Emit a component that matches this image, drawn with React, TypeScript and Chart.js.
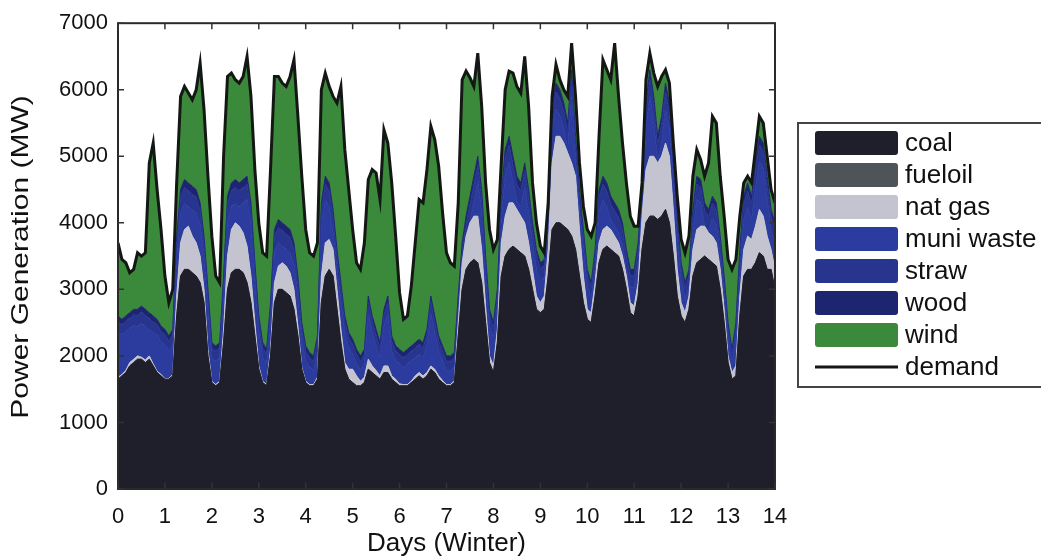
import React, { useEffect, useRef } from 'react';
import { Chart, registerables } from 'chart.js';

Chart.register(...registerables);

// Sampling: every 2 hours over 14 winter days (12 samples per day, 169 points)
const STEPS_PER_DAY = 12;

// Total demand (top of the stack), MW
const demand = [
  3700, 3450, 3400, 3250, 3300, 3550, 3500, 3550, 4900, 5200, 4500, 3900, 3200,
  2800, 3000, 4600, 5900, 6050, 5950, 5850, 6000, 6400, 5700, 4700, 3800,
  3200, 3100, 5000, 6200, 6250, 6150, 6100, 6200, 6500, 5900, 4800, 4000,
  3550, 3500, 4800, 6200, 6200, 6100, 6050, 6200, 6450, 5600, 4700, 3900,
  3550, 3500, 3700, 6000, 6250, 6050, 5900, 5800, 6050, 5100, 4500, 3900,
  3400, 3300, 3700, 4650, 4800, 4750, 4350, 5400, 5200, 4600, 3800, 2950,
  2550, 2600, 3050, 3700, 4350, 4300, 4800, 5450, 5250, 4850, 4150, 3550,
  3400, 3350, 4300, 6150, 6280, 6180, 6050, 6550, 5750, 4600, 3900, 3600,
  3750, 4900, 6000, 6280, 6250, 6050, 5950, 6500, 5750, 4600, 4000, 3650,
  3550, 4300, 5900, 6380, 6150, 6000, 5900, 6700, 5900, 4900, 4250, 3900,
  3800, 4000, 5300, 6450, 6300, 6150, 6700, 5900, 5200, 4600, 4100, 3950,
  3950, 4600, 6150, 6550, 6250, 6050, 6200, 6300, 6100, 5200, 4400, 3750,
  3550, 3800, 4700, 5100, 4950, 4700, 4900, 5600, 5500, 4700, 4100, 3450,
  3300, 3450, 4100, 4600, 4700, 4600, 5100, 5600, 5500, 5000, 4500, 4300,
];

// Coal generation (bottom layer), MW
const coal = [
  1650, 1700, 1750, 1850, 1900, 1950, 1950, 1900, 1950, 1850, 1750, 1700, 1650,
  1650, 1700, 2600, 3200, 3300, 3300, 3250, 3200, 3100, 2800, 2000, 1600,
  1550, 1600, 2200, 3000, 3250, 3300, 3300, 3250, 3100, 2800, 2300, 1800,
  1600, 1550, 2000, 2800, 3000, 3000, 2950, 2900, 2700, 2300, 1800, 1600,
  1550, 1550, 1650, 2800, 3200, 3300, 3200, 2700, 2200, 1800, 1650, 1600,
  1550, 1550, 1600, 1800, 1750, 1700, 1650, 1750, 1750, 1650, 1600, 1550,
  1550, 1550, 1600, 1650, 1700, 1650, 1700, 1800, 1750, 1650, 1600, 1550,
  1550, 1600, 2300, 3000, 3300, 3400, 3450, 3400, 3100, 2500, 1900, 1750,
  2200, 3200, 3500, 3600, 3650, 3600, 3550, 3500, 3300, 3000, 2700, 2650,
  2700, 3200, 3900, 4000, 4000, 3950, 3900, 3800, 3600, 3200, 2800, 2550,
  2500, 2900, 3400, 3600, 3650, 3600, 3550, 3500, 3300, 3000, 2650, 2600,
  2900, 3600, 4000, 4100, 4100, 4050, 4100, 4200, 4000, 3500, 2900, 2600,
  2500, 2700, 3200, 3400, 3450, 3500, 3450, 3400, 3350, 3000, 2500, 1900,
  1650, 1700, 2600, 3200, 3300, 3300, 3400, 3550, 3500, 3300, 3300, 3000,
];

// Fuel oil generation (thin layer above coal), MW
const fuelOil = [
  0, 0, 0, 0, 0, 0, 0, 0, 0, 0, 0, 0, 0,
  0, 0, 0, 0, 0, 0, 0, 0, 0, 0, 0, 0,
  0, 0, 0, 0, 0, 0, 0, 0, 0, 0, 0, 0,
  0, 0, 0, 0, 0, 0, 0, 0, 0, 0, 0, 0,
  0, 0, 0, 0, 0, 0, 0, 0, 0, 0, 0, 0,
  0, 0, 0, 0, 0, 0, 0, 0, 0, 0, 0, 0,
  0, 0, 0, 0, 0, 0, 0, 0, 0, 0, 0, 0,
  0, 0, 0, 0, 0, 0, 0, 0, 0, 0, 0, 0,
  0, 0, 0, 0, 0, 0, 0, 0, 0, 0, 0, 0,
  0, 0, 0, 0, 0, 0, 0, 0, 0, 0, 0, 0,
  0, 0, 0, 0, 0, 0, 0, 0, 0, 0, 0, 0,
  0, 0, 0, 0, 0, 0, 0, 0, 0, 0, 0, 0,
  0, 0, 0, 0, 0, 0, 0, 0, 0, 0, 0, 0,
  0, 0, 0, 0, 0, 0, 0, 0, 0, 0, 0, 0,
];

// Top of the natural gas layer (cumulative), MW
const natGasTop = [
  1680, 1720, 1780, 1900, 1950, 2000, 1980, 1940, 2000, 1880, 1770, 1720, 1660,
  1660, 1720, 2900, 3700, 3900, 3950, 3800, 3700, 3500, 3000, 2100, 1620,
  1570, 1620, 2400, 3500, 3900, 4000, 3950, 3850, 3650, 3200, 2500, 1850,
  1620, 1570, 2100, 3100, 3350, 3400, 3350, 3250, 3000, 2450, 1830, 1620,
  1570, 1570, 1680, 3200, 3700, 3750, 3600, 3000, 2400, 1900, 1800, 1800,
  1700, 1620, 1680, 1950, 1850, 1780, 1700, 1850, 1850, 1700, 1650, 1580,
  1570, 1570, 1620, 1700, 1750, 1700, 1750, 1850, 1800, 1700, 1630, 1570,
  1570, 1630, 2500, 3400, 3800, 4000, 4100, 4100, 3600, 2750, 2000, 1850,
  2400, 3700, 4100, 4300, 4300, 4200, 4100, 4000, 3700, 3300, 2900, 2800,
  2900, 3600, 4900, 5300, 5300, 5200, 5050, 4900, 4700, 3900, 3200, 2700,
  2650, 3100, 3700, 3900, 3950, 3900, 3800, 3700, 3500, 3200, 2800, 2750,
  3100, 4100, 4800, 5000, 5000, 4900, 5000, 5200, 5000, 4200, 3300, 2800,
  2650, 2900, 3600, 3900, 3950, 3950, 3850, 3800, 3700, 3300, 2700, 2000,
  1750, 1850, 2900, 3600, 3800, 3750, 3950, 4200, 4100, 3800, 3600, 3300,
];

// Top of the biomass block (muni waste + straw + wood, cumulative), MW
const biomassTop = [
  2600, 2550, 2600, 2650, 2700, 2700, 2750, 2700, 2650, 2600, 2550, 2450, 2400,
  2300, 2400, 3800, 4500, 4650, 4600, 4550, 4500, 4300, 3800, 3000, 2200,
  2150, 2200, 3200, 4400, 4600, 4650, 4600, 4650, 4700, 4300, 3400, 2600,
  2200, 2100, 2800, 3900, 4050, 4000, 3950, 3900, 3700, 3200, 2500, 2150,
  2050, 2000, 2300, 4300, 4700, 4600, 4200, 3600, 3100, 2600, 2350, 2250,
  2100, 2000, 2100, 2900, 2600, 2400, 2200, 2700, 2900, 2300, 2150, 2100,
  2050, 2100, 2150, 2200, 2250, 2200, 2400, 2900, 2600, 2300, 2150, 2000,
  2000, 2050, 2900, 3700, 4100, 4400, 4700, 5000, 4500, 3500, 2700, 2500,
  3000, 4400, 5100, 5300, 5000, 4700, 4600, 4900, 4500, 4000, 3600, 3400,
  3450, 4300, 5800, 6100, 6000, 5800, 5500, 6300, 5300, 4500, 3900, 3300,
  3100, 3600, 4500, 4700, 4600, 4400, 4300, 4200, 4000, 3600, 3300, 3300,
  3700, 4600, 5800, 6300, 5900, 5300, 5600, 6100, 5800, 5000, 4100, 3400,
  3100, 3300, 4200, 4700, 4650, 4300, 4200, 4400, 4300, 3800, 3200, 2500,
  2100, 2500, 3600, 4400, 4600, 4400, 4900, 5300, 5200, 4700, 4200, 4000,
];

// Straw generation (thickness), MW
const straw = [
  150, 150, 150, 160, 160, 170, 170, 170, 170, 160, 160, 150, 150,
  150, 160, 200, 230, 240, 240, 240, 230, 220, 200, 170, 150,
  150, 150, 190, 230, 240, 240, 240, 240, 230, 210, 180, 150,
  140, 140, 180, 220, 230, 230, 230, 230, 220, 200, 170, 150,
  140, 140, 160, 220, 240, 240, 230, 200, 180, 160, 150, 150,
  140, 140, 140, 170, 160, 160, 150, 160, 170, 150, 140, 140,
  140, 140, 140, 150, 150, 150, 150, 170, 160, 150, 140, 140,
  140, 140, 180, 220, 240, 250, 250, 250, 230, 190, 160, 150,
  180, 230, 250, 260, 250, 250, 240, 240, 230, 210, 190, 180,
  180, 220, 250, 260, 260, 250, 250, 250, 230, 200, 180, 160,
  160, 190, 230, 240, 240, 240, 230, 230, 220, 200, 180, 180,
  190, 230, 250, 260, 260, 250, 250, 260, 250, 220, 190, 170,
  160, 170, 210, 230, 230, 230, 220, 220, 220, 200, 170, 150,
  140, 150, 200, 230, 240, 240, 250, 250, 250, 230, 210, 200,
];

// Wood generation (thickness), MW
const wood = [
  80, 80, 80, 80, 80, 90, 90, 90, 90, 90, 80, 80, 80,
  80, 80, 100, 120, 120, 120, 120, 120, 110, 100, 90, 80,
  80, 80, 100, 120, 120, 120, 120, 120, 120, 110, 90, 80,
  80, 80, 90, 110, 120, 120, 120, 120, 110, 100, 90, 80,
  80, 80, 90, 120, 120, 120, 120, 100, 90, 90, 80, 80,
  80, 80, 80, 90, 90, 90, 80, 90, 90, 80, 80, 80,
  80, 80, 80, 80, 80, 80, 80, 90, 90, 80, 80, 80,
  80, 80, 90, 110, 120, 130, 130, 130, 120, 100, 90, 80,
  90, 120, 130, 130, 130, 130, 120, 120, 120, 110, 100, 90,
  90, 110, 130, 130, 130, 130, 130, 130, 120, 100, 90, 80,
  80, 100, 120, 120, 120, 120, 120, 120, 110, 100, 90, 90,
  100, 120, 130, 130, 130, 130, 130, 130, 130, 110, 100, 90,
  80, 90, 110, 120, 120, 120, 110, 110, 110, 100, 90, 80,
  80, 80, 100, 120, 120, 120, 130, 130, 130, 120, 110, 100,
];

const dayTicks = [0, 1, 2, 3, 4, 5, 6, 7, 8, 9, 10, 11, 12, 13, 14];
const powerTicks = [0, 1000, 2000, 3000, 4000, 5000, 6000, 7000];
const legendLabels = ['coal', 'fueloil', 'nat gas', 'muni waste', 'straw', 'wood', 'wind', 'demand'];
const layerColors = ['#1f1f2b', '#4f5459', '#c4c4d1', '#2b3c9e', '#27358f', '#1e2570', '#3b893b'];
const demandColor = '#141814';
const xTitle = 'Days (Winter)';
const yTitle = 'Power Generation (MW)';

const FONT = '"Liberation Sans", Arial, Helvetica, sans-serif';

const timeDays = demand.map((_, i) => i / STEPS_PER_DAY);
const pts = (vals: number[]) => vals.map((y, i) => ({ x: timeDays[i], y }));

const overlay = {
  id: 'overlay',
  afterDraw(chart: any) {
    const { ctx, chartArea: a, scales } = chart;
    ctx.save();
    // axes box
    ctx.strokeStyle = '#2a2a2a';
    ctx.lineWidth = 2;
    ctx.strokeRect(a.left, a.top, a.right - a.left, a.bottom - a.top);
    // inward ticks
    ctx.lineWidth = 1.5;
    ctx.strokeStyle = '#333';
    ctx.beginPath();
    for (const d of dayTicks) {
      const x = scales.x.getPixelForValue(d);
      ctx.moveTo(x, a.top);
      ctx.lineTo(x, a.top + 6);
      ctx.moveTo(x, a.bottom);
      ctx.lineTo(x, a.bottom - 6);
    }
    for (const p of powerTicks) {
      const y = scales.y.getPixelForValue(p);
      ctx.moveTo(a.left, y);
      ctx.lineTo(a.left + 6, y);
      ctx.moveTo(a.right, y);
      ctx.lineTo(a.right - 6, y);
    }
    ctx.stroke();

    // axis titles
    ctx.fillStyle = '#111';
    ctx.textAlign = 'center';
    ctx.textBaseline = 'middle';
    ctx.font = `26px ${FONT}`;
    ctx.fillText(xTitle, (a.left + a.right) / 2, 544);
    ctx.save();
    ctx.translate(21, 257);
    ctx.rotate(-Math.PI / 2);
    ctx.scale(1.25, 1);
    ctx.font = `24px ${FONT}`;
    ctx.fillText(yTitle, 0, 0);
    ctx.restore();

    // legend
    const lx = 798, ly = 123, lh = 264;
    ctx.strokeStyle = '#444';
    ctx.lineWidth = 2;
    ctx.strokeRect(lx, ly, 300, lh);
    ctx.font = `26px ${FONT}`;
    ctx.textAlign = 'left';
    legendLabels.forEach((label, i) => {
      const cy = 143 + i * 32;
      if (i < layerColors.length) {
        ctx.fillStyle = layerColors[i];
        ctx.beginPath();
        (ctx as any).roundRect(815, cy - 12, 83, 24, 3);
        ctx.fill();
      } else {
        ctx.strokeStyle = demandColor;
        ctx.lineWidth = 3;
        ctx.beginPath();
        ctx.moveTo(815, cy);
        ctx.lineTo(898, cy);
        ctx.stroke();
      }
      ctx.fillStyle = '#111';
      ctx.fillText(label, 905, cy + 1);
    });
    ctx.restore();
  },
};

export default function App() {
  const ref = useRef<HTMLCanvasElement>(null);
  useEffect(() => {
    const canvas = ref.current!;
    const layerTops = [
      coal,
      coal.map((v, i) => v + fuelOil[i]),
      natGasTop,
      biomassTop.map((v, i) => Math.max(natGasTop[i], v - straw[i] - wood[i])),
      biomassTop.map((v, i) => v - wood[i]),
      biomassTop,
      demand,
    ];
    const datasets: any[] = layerTops.map((vals, i) => ({
      label: legendLabels[i],
      data: pts(vals),
      backgroundColor: layerColors[i],
      borderColor: layerColors[i],
      borderWidth: 1,
      pointRadius: 0,
      tension: 0,
      fill: i === 0 ? 'origin' : '-1',
    }));
    datasets.push({
      label: 'demand',
      data: pts(demand),
      borderColor: demandColor,
      borderWidth: 3,
      pointRadius: 0,
      tension: 0,
      fill: false,
      order: -1,
    });
    const chart = new Chart(canvas, {
      type: 'line',
      data: { datasets },
      options: {
        animation: false,
        responsive: false,
        devicePixelRatio: 1,
        layout: { padding: { left: 0, top: 20, right: 266, bottom: 0 } },
        plugins: { legend: { display: false }, tooltip: { enabled: false } },
        scales: {
          x: {
            type: 'linear',
            min: 0,
            max: 14,
            afterBuildTicks: (s: any) => { s.ticks = dayTicks.map((v) => ({ value: v })); },
            afterFit: (s: any) => { s.height = 70; },
            ticks: {
              font: { size: 22, family: FONT },
              color: '#111',
              padding: 15,
              maxRotation: 0,
              autoSkip: false,
              callback: (v: any) => String(v),
            },
            grid: { display: false, drawTicks: false },
            border: { display: false },
          },
          y: {
            type: 'linear',
            min: 0,
            max: 7000,
            afterBuildTicks: (s: any) => { s.ticks = powerTicks.map((v) => ({ value: v })); },
            afterFit: (s: any) => { s.width = 118; },
            ticks: {
              font: { size: 22, family: FONT },
              color: '#111',
              padding: 10,
              callback: (v: any) => String(v),
            },
            grid: { display: false, drawTicks: false },
            border: { display: false },
          },
        },
      },
      plugins: [overlay],
    });
    return () => chart.destroy();
  }, []);
  return (
    <div style={{ position: 'absolute', left: 0, top: 0, width: 1041, height: 559, background: '#fff' }}>
      <canvas ref={ref} width={1041} height={559} style={{ width: 1041, height: 559, display: 'block' }} />
    </div>
  );
}
